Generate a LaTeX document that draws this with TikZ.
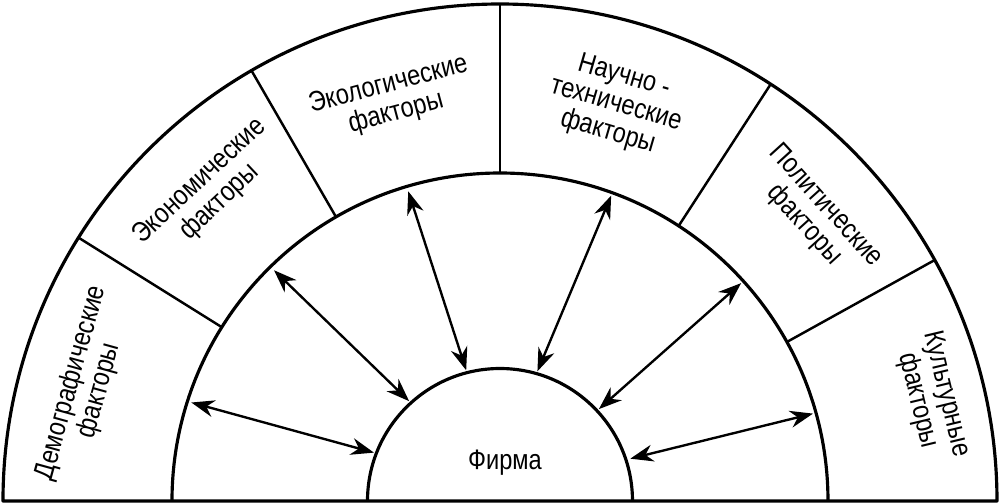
\documentclass[tikz,border=0pt]{standalone}
\usepackage{fontspec}
\setmainfont{Liberation Sans}[FakeStretch=0.84]
\usetikzlibrary{arrows.meta}

\begin{document}
\begin{tikzpicture}[line join=round,
  lbl/.style={align=center,font=\fontsize{16}{16.5}\selectfont},
  ring/.style={line width=1.8pt},
  wall/.style={line width=1.4pt},
  both/.style={{Stealth[length=4.6mm,width=3.4mm]}-{Stealth[length=4.6mm,width=3.4mm]},line width=1.35pt}]
\useasboundingbox (-10,-0.04) rectangle (10,10.02);
% rings
\draw[ring] (-9.94,0) arc[start angle=180,end angle=0,radius=9.94] -- cycle;
\draw[ring] (-6.56,0) arc[start angle=180,end angle=0,radius=6.56];
\draw[ring] (-2.65,0) arc[start angle=180,end angle=0,radius=2.65];
% sector walls
\draw[wall] (148:6.56) -- (148:9.94);
\draw[wall] (120:6.56) -- (120:9.94);
\draw[wall] (90:6.56) -- (90:9.94);
\draw[wall] (57:6.56) -- (57:9.94);
\draw[wall] (29:6.56) -- (29:9.94);
% factors
\node[lbl,rotate=74.6] (dem) at (164.6:8.6) {Демографические\\факторы};
\node[lbl,rotate=43.2] (econ) at (133.2:8.48) {Экономические\\факторы};
\node[lbl,rotate=15] (ecol) at (105:8.32) {Экологические\\факторы};
\node[lbl,rotate=-16.3] (sci) at (73.7:8.26) {Научно -\\технические\\факторы};
\node[lbl,rotate=-47.8] (pol) at (42.2:8.5) {Политические\\факторы};
\node[lbl,rotate=-76.5] (cult) at (13.5:8.88) {Культурные\\факторы};
\node[lbl] (firm) at (0.1,0.76) {Фирма};
% arrow ends
\coordinate (o1) at (162.3:6.48);
\coordinate (o2) at (134.4:6.46);
\coordinate (o3) at (106.5:6.46);
\coordinate (o4) at (70:6.5);
\coordinate (o5) at (42.1:6.5);
\coordinate (o6) at (15.6:6.5);
\coordinate (i1) at (159:2.7);
\coordinate (i2) at (132.3:2.7);
\coordinate (i3) at (104.5:2.7);
\coordinate (i4) at (73.9:2.7);
\coordinate (i5) at (42.9:2.7);
\coordinate (i6) at (18:2.74);
\path[both]
(o1) edge (i1)
(o2) edge (i2)
(o3) edge (i3)
(o4) edge (i4)
(o5) edge (i5)
(o6) edge (i6);
\end{tikzpicture}
\end{document}
